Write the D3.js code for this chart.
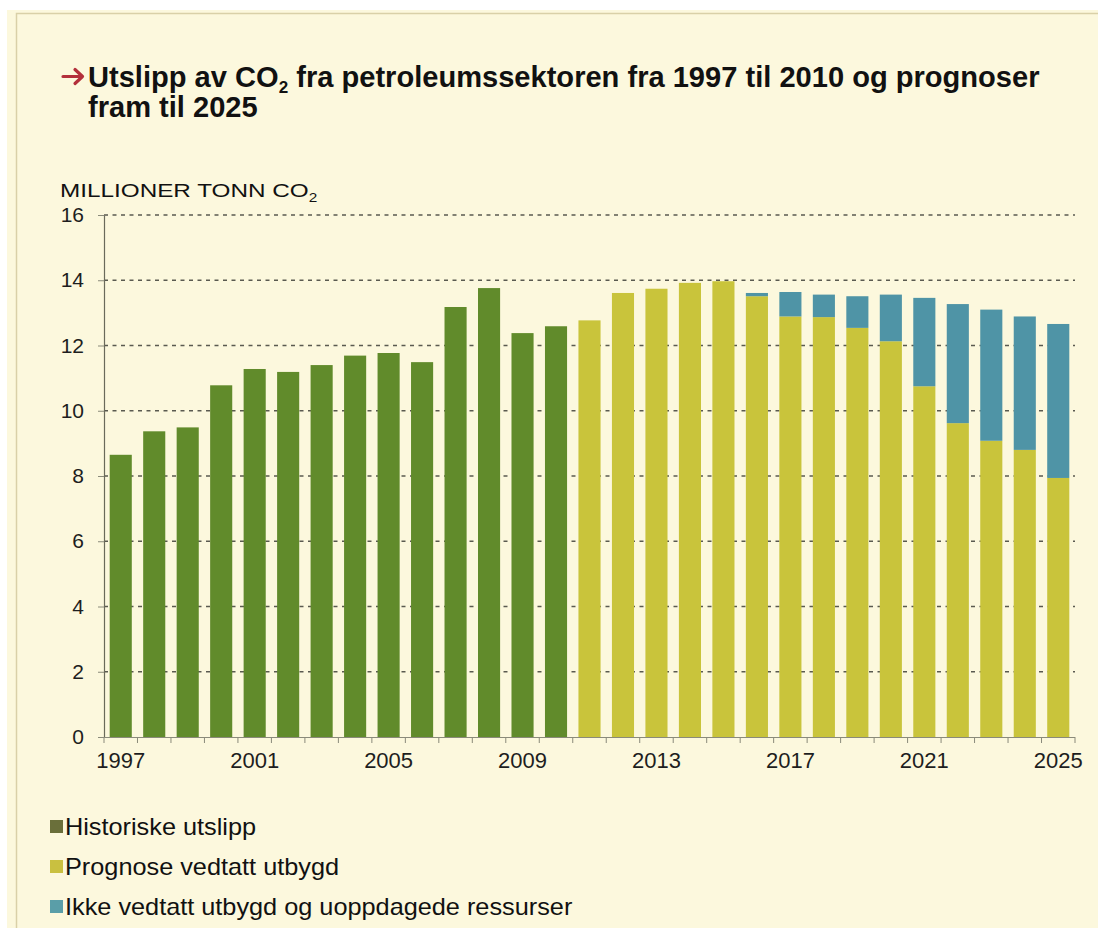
<!DOCTYPE html>
<html>
<head>
<meta charset="utf-8">
<script src="https://cdn.jsdelivr.net/npm/d3@7"></script>
<style>
  body { margin: 0; background: #ffffff; }
  svg { display: block; }
  .axis text { font-family: "Liberation Sans", Arial, sans-serif; fill: #1e1e1e; }
</style>
</head>
<body>
<div id="chart"></div>
<script>
var width = 1098,
    height = 928;

// data (millioner tonn CO2)
var years = [1997, 1998, 1999, 2000, 2001, 2002, 2003, 2004, 2005, 2006, 2007, 2008, 2009, 2010,
             2011, 2012, 2013, 2014, 2015, 2016, 2017, 2018, 2019, 2020, 2021, 2022, 2023, 2024, 2025];
var historiske = [8.65, 9.37, 9.49, 10.78, 11.28, 11.19, 11.40, 11.69, 11.77, 11.49, 13.18, 13.76, 12.38, 12.59,
                  0, 0, 0, 0, 0, 0, 0, 0, 0, 0, 0, 0, 0, 0, 0];
var vedtatt = [0, 0, 0, 0, 0, 0, 0, 0, 0, 0, 0, 0, 0, 0,
               12.77, 13.61, 13.74, 13.92, 13.97, 13.51, 12.89, 12.87, 12.54, 12.13, 10.75, 9.62, 9.08, 8.80, 7.94];
var ikkeVedtatt = [0, 0, 0, 0, 0, 0, 0, 0, 0, 0, 0, 0, 0, 0, 0, 0, 0, 0, 0,
                   0.10, 0.75, 0.69, 0.97, 1.43, 2.71, 3.65, 4.02, 4.09, 4.72];
var yTicks = [0, 2, 4, 6, 8, 10, 12, 14, 16];
var xLabels = [1997, 2001, 2005, 2009, 2013, 2017, 2021, 2025];
var seriesNames = ["Historiske utslipp", "Prognose vedtatt utbygd", "Ikke vedtatt utbygd og uoppdagede ressurser"];
var colors = ["#618b2b", "#c9c43b", "#4f94a6"];
var legendColors = ["#6a6f3a", "#c9c040", "#5a9ea8"];

var svg = d3.select("#chart").append("svg")
    .attr("width", width)
    .attr("height", height);

// squeeze/stretch a text horizontally so it spans w pixels from x0
function fitWidth(sel, x0, w){
    var n = sel.node().getBBox().width;
    var k = w / n;
    sel.attr("transform", "translate(" + x0 + ",0) scale(" + k + ",1) translate(" + (-x0) + ",0)");
    return k;
}

// cream panel with thin border
svg.append("rect").attr("x", 7).attr("y", 10).attr("width", width - 7).attr("height", height - 10)
    .attr("fill", "#fcf8dd");
svg.append("path").attr("d", "M16.5," + height + "V13.5H" + width)
    .attr("fill", "none").attr("stroke", "#d9d0a8").attr("stroke-width", 1.5);

// title with red arrow
svg.append("path").attr("d", "M63,76.5H81M75,69.5L82.5,76.5L75,83.5")
    .attr("fill", "none").attr("stroke", "#b3303b").attr("stroke-width", 3.2)
    .attr("stroke-linecap", "round").attr("stroke-linejoin", "round");

var sans = '"Liberation Sans", Arial, sans-serif';
var t1 = svg.append("text").attr("x", 88).attr("y", 87)
    .attr("font-family", sans).attr("font-weight", "bold").attr("font-size", 29).attr("fill", "#111");
t1.append("tspan").text("Utslipp av CO");
t1.append("tspan").attr("font-size", 17).attr("dy", 6).text("2");
t1.append("tspan").attr("dy", -6).text(" fra petroleumssektoren fra 1997 til 2010 og prognoser");
var k = fitWidth(t1, 88, 952);
var t2 = svg.append("text").attr("x", 88).attr("y", 117)
    .attr("font-family", sans).attr("font-weight", "bold").attr("font-size", 29).attr("fill", "#111")
    .text("fram til 2025");
t2.attr("transform", "translate(88,0) scale(" + k + ",1) translate(-88,0)");

// y label
var yl = svg.append("text").attr("x", 60).attr("y", 197)
    .attr("font-family", sans).attr("font-size", 19).attr("fill", "#111");
yl.append("tspan").text("MILLIONER TONN CO");
yl.append("tspan").attr("font-size", 12).attr("dy", 5).text("2");
fitWidth(yl, 60, 258);

// scales
var x = d3.scaleBand().domain(years).range([104, 1075]).paddingInner(0.34).paddingOuter(0.17);
var y = d3.scaleLinear().domain([0, 16]).range([737, 215]);

// gridlines
svg.append("g").selectAll("line")
    .data(yTicks.filter(function(d){ return d > 0; }))
    .enter().append("line")
    .attr("x1", 104).attr("x2", 1075)
    .attr("y1", function(d){ return y(d); }).attr("y2", function(d){ return y(d); })
    .attr("stroke", "#5a5a50").attr("stroke-width", 1.6).attr("stroke-dasharray", "4,4.5");

// stacked bars
var table = years.map(function(yr, i){
    return {year: yr, h: historiske[i], v: vedtatt[i], u: ikkeVedtatt[i]};
});
var stack = d3.stack().keys(["h", "v", "u"])(table);

svg.append("g").selectAll("g")
    .data(stack).enter().append("g")
    .attr("fill", function(d, i){ return colors[i]; })
  .selectAll("rect")
    .data(function(d){ return d.filter(function(e){ return e[1] - e[0] > 0; }); })
    .enter().append("rect")
    .attr("x", function(d){ return x(d.data.year); })
    .attr("width", x.bandwidth())
    .attr("y", function(d){ return y(d[1]); })
    .attr("height", function(d){ return y(d[0]) - y(d[1]); });

// y axis
svg.append("g").attr("class", "axis")
    .attr("transform", "translate(104,0)")
    .call(d3.axisLeft(y).tickValues(yTicks).tickSize(6).tickPadding(14).tickSizeOuter(0))
    .call(function(g){
        g.selectAll("text").attr("font-size", 21);
        g.select(".domain").attr("stroke", "#6a6a5a").attr("stroke-width", 1.2);
        g.selectAll(".tick line").attr("stroke", "#8a8a7a");
    });

// x axis: labels every 4th year, ticks at bar boundaries
var step = x.step();
svg.append("line").attr("x1", 104).attr("x2", 1075).attr("y1", 737.5).attr("y2", 737.5)
    .attr("stroke", "#8a8a7a").attr("stroke-width", 1);
svg.append("g").selectAll("line")
    .data(years).enter().append("line")
    .attr("x1", function(d){ return x(d) - (step - x.bandwidth()) / 2; })
    .attr("x2", function(d){ return x(d) - (step - x.bandwidth()) / 2; })
    .attr("y1", 737).attr("y2", 743)
    .attr("stroke", "#8a8a7a");
svg.append("line").attr("x1", 1075).attr("x2", 1075).attr("y1", 737).attr("y2", 743).attr("stroke", "#8a8a7a");

svg.append("g").attr("class", "axis")
    .attr("transform", "translate(0,737)")
    .call(d3.axisBottom(x).tickValues(xLabels).tickSize(0).tickPadding(15))
    .call(function(g){
        g.select(".domain").remove();
        g.selectAll("text").attr("font-size", 22);
    });

// legend
var legend = svg.append("g").selectAll("g")
    .data(seriesNames).enter().append("g")
    .attr("transform", function(d, i){ return "translate(50," + (827 + i * 40) + ")"; });
legend.append("rect").attr("x", 0).attr("y", -7).attr("width", 13).attr("height", 13)
    .attr("fill", function(d, i){ return legendColors[i]; });
legend.append("text").attr("x", 15).attr("y", 8)
    .attr("font-family", sans).attr("font-size", 23).attr("fill", "#111")
    .attr("transform", "translate(15,0) scale(1.1,1) translate(-15,0)")
    .text(function(d){ return d; });
</script>
</body>
</html>
